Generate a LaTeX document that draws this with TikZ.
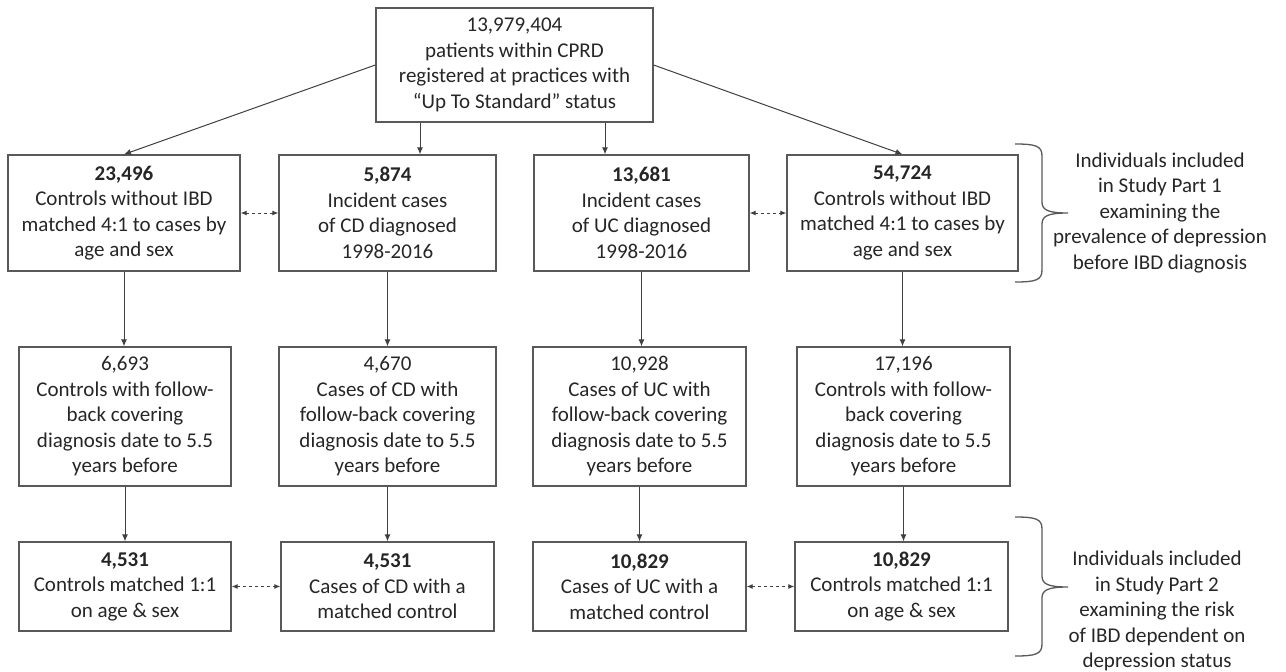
\documentclass[tikz,border=0pt]{standalone}
\usepackage{fontspec}
\setmainfont{Carlito}
\usetikzlibrary{arrows.meta,positioning}
\tikzset{
  box/.style={draw=black!65, line width=1.3pt, align=center, inner sep=0pt,
    text=black!85, font=\fontsize{21}{25.5}\selectfont},
  note/.style={align=center, inner sep=0pt, text=black!85,
    font=\fontsize{21}{25.5}\selectfont},
  arr/.style={draw=black!75, line width=1pt, -{Latex[length=7pt,width=6pt]}},
  link/.style={draw=black!75, line width=1pt, dash pattern=on 3pt off 3pt,
    {Latex[length=6pt,width=5pt]}-{Latex[length=6pt,width=5pt]}},
  brace/.style={draw=black!65, line width=1.3pt}
}
\begin{document}
\begin{tikzpicture}[x=1pt,y=-1pt]
\useasboundingbox (0,0) rectangle (1286,672);

% Top box
\node[box, minimum width=277pt, minimum height=114pt] (cprd) at (514.5,65)
  {13,979,404\\patients within CPRD\\registered at practices with\\``Up To Standard'' status};

% Row 1
\node[box, minimum width=232pt, minimum height=116pt] (ctrlCD) at (124,213)
  {\textbf{23,496}\\Controls without IBD\\matched 4:1 to cases by\\age and sex};
\node[box, minimum width=217pt, minimum height=116pt] (incCD) at (387.5,213)
  {\textbf{5,874}\\Incident cases\\of CD diagnosed\\1998-2016};
\node[box, minimum width=215pt, minimum height=116pt] (incUC) at (641.5,213)
  {\textbf{13,681}\\Incident cases\\of UC diagnosed\\1998-2016};
\node[box, minimum width=231pt, minimum height=116pt] (ctrlUC) at (902.5,213)
  {\textbf{54,724}\\Controls without IBD\\matched 4:1 to cases by\\age and sex};

% Row 2
\node[box, minimum width=212pt, minimum height=139pt] (fbCtrlCD) at (125,416.5)
  {6,693\\Controls with follow-\\back covering\\diagnosis date to 5.5\\years before};
\node[box, minimum width=217pt, minimum height=139pt] (fbCD) at (387.5,416.5)
  {4,670\\Cases of CD with\\follow-back covering\\diagnosis date to 5.5\\years before};
\node[box, minimum width=213pt, minimum height=139pt] (fbUC) at (639.5,416.5)
  {10,928\\Cases of UC with\\follow-back covering\\diagnosis date to 5.5\\years before};
\node[box, minimum width=213pt, minimum height=139pt] (fbCtrlUC) at (903.5,416.5)
  {17,196\\Controls with follow-\\back covering\\diagnosis date to 5.5\\years before};

% Row 3
\node[box, minimum width=212pt, minimum height=89pt] (mCtrlCD) at (125,586.5)
  {\textbf{4,531}\\Controls matched 1:1\\on age \& sex};
\node[box, minimum width=213pt, minimum height=89pt] (mCD) at (387.5,586.5)
  {\textbf{4,531}\\Cases of CD with a\\matched control};
\node[box, minimum width=213pt, minimum height=89pt] (mUC) at (639.5,586.5)
  {\textbf{10,829}\\Cases of UC with a\\matched control};
\node[box, minimum width=213pt, minimum height=89pt] (mCtrlUC) at (901.5,586.5)
  {\textbf{10,829}\\Controls matched 1:1\\on age \& sex};

% Text Node
\node[note] (part1) at (1160,213)
  {Individuals included\\in Study Part 1\\examining the\\prevalence of depression\\before IBD diagnosis};
% Text Node
\node[note] (part2) at (1157,611)
  {Individuals included\\in Study Part 2\\examining the risk\\of IBD dependent on\\depression status};

% Arrows from the top box
\coordinate (dropCD) at (420,0);
\coordinate (dropUC) at (605,0);
\draw[arr] (cprd.west) -- (ctrlCD.north);
\draw[arr] (cprd.east) -- (ctrlUC.north);
\draw[arr] (cprd.south -| dropCD) -- (incCD.north -| dropCD);
\draw[arr] (cprd.south -| dropUC) -- (incUC.north -| dropUC);

% Down the columns
\draw[arr] (ctrlCD.south) -- (ctrlCD.south |- fbCtrlCD.north);
\draw[arr] (incCD.south) -- (fbCD.north);
\draw[arr] (incUC.south) -- (incUC.south |- fbUC.north);
\draw[arr] (ctrlUC.south) -- (ctrlUC.south |- fbCtrlUC.north);
\draw[arr] (fbCtrlCD.south) -- (mCtrlCD.north);
\draw[arr] (fbCD.south) -- (mCD.north);
\draw[arr] (fbUC.south) -- (mUC.north);
\draw[arr] (fbCtrlUC.south) -- (fbCtrlUC.south |- mCtrlUC.north);

% Matching links
\draw[link] (ctrlCD.east) -- (incCD.west);
\draw[link] (incUC.east) -- (ctrlUC.west);
\draw[link] (mCtrlCD.east) -- (mCD.west);
\draw[link] (mUC.east) -- (mCtrlUC.west);

%Shape: Brace
\draw[brace] (1015,144) .. controls (1036,144) and (1042,146) .. (1042,156) -- (1042,202)
  .. controls (1042,210) and (1048,213) .. (1068,213)
  .. controls (1048,213) and (1042,216) .. (1042,224) -- (1042,270)
  .. controls (1042,280) and (1036,282) .. (1015,282);
%Shape: Brace
\draw[brace] (1015,517) .. controls (1036,517) and (1042,519) .. (1042,529) -- (1042,576)
  .. controls (1042,584) and (1048,587) .. (1068,587)
  .. controls (1048,587) and (1042,590) .. (1042,598) -- (1042,644)
  .. controls (1042,654) and (1036,656) .. (1015,656);
\end{tikzpicture}
\end{document}
